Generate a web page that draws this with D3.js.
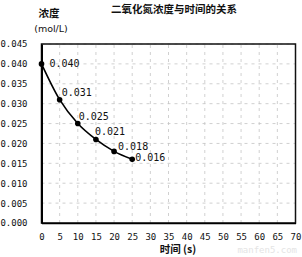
<!DOCTYPE html>
<html><head><meta charset="utf-8">
<script src="https://cdn.jsdelivr.net/npm/d3@7"></script>
<style>body{margin:0;background:#fff}svg{display:block}</style>
</head><body>
<svg id="c" width="302" height="257"></svg>
<script>
const times = [0, 5, 10, 15, 20, 25];
const concentrations = [0.040, 0.031, 0.025, 0.021, 0.018, 0.016];
const pointLabels = ["0.040", "0.031", "0.025", "0.021", "0.018", "0.016"];
const xTicks = [0,5,10,15,20,25,30,35,40,45,50,55,60,65,70];
const yTicks = [0,0.005,0.010,0.015,0.020,0.025,0.030,0.035,0.040,0.045];
const title = "二氧化氮浓度与时间的关系";
const yTitle1 = "浓度";
const yTitle2 = "(mol/L)";
const xTitle = "时间 (s)";

const svg = d3.select("#c");
const x = d3.scaleLinear().domain([0,70]).range([41.5,295.5]);
const y = d3.scaleLinear().domain([0,0.045]).range([223,44]);
const mono = "'DejaVu Sans Mono', monospace";

// gridlines
svg.append("g").selectAll("line").data(yTicks.slice(1)).join("line")
  .attr("x1",x(0)).attr("x2",x(70)).attr("y1",d=>y(d)).attr("y2",d=>y(d))
  .attr("stroke","#c4c4c4").attr("stroke-width",0.8).attr("stroke-dasharray","3,4");
svg.append("g").selectAll("line").data(xTicks.slice(1)).join("line")
  .attr("y1",y(0)).attr("y2",y(0.045)).attr("x1",d=>x(d)).attr("x2",d=>x(d))
  .attr("stroke","#c4c4c4").attr("stroke-width",0.8).attr("stroke-dasharray","3,4");

// frame
svg.append("rect").attr("x",x(0)).attr("y",y(0.045)).attr("width",x(70)-x(0)).attr("height",y(0)-y(0.045))
  .attr("fill","none").attr("stroke","#111").attr("stroke-width",1.5);

// axes
const ya = d3.axisLeft(y).tickValues(yTicks).tickFormat(d3.format(".3f")).tickSize(0).tickPadding(14);
const yg = svg.append("g").attr("transform",`translate(${x(0)},0)`).call(ya);
yg.select(".domain").attr("stroke","#000").attr("stroke-width",2);
yg.selectAll("text").attr("font-family",mono).attr("font-size",9).attr("fill","#111");
const xa = d3.axisBottom(x).tickValues(xTicks).tickSize(0).tickPadding(11);
const xg = svg.append("g").attr("transform",`translate(0,${y(0)})`).call(xa);
xg.select(".domain").attr("stroke","#000").attr("stroke-width",1.5);
xg.selectAll("text").attr("font-family",mono).attr("font-size",9).attr("fill","#111");

// line
const pts = times.map((t,i)=>[t,concentrations[i]]);
svg.append("path").datum(pts)
  .attr("d",d3.line().x(d=>x(d[0])).y(d=>y(d[1])).curve(d3.curveMonotoneX))
  .attr("fill","none").attr("stroke","#000").attr("stroke-width",1.6);
svg.append("g").selectAll("circle").data(pts).join("circle")
  .attr("cx",d=>x(d[0])).attr("cy",d=>y(d[1])).attr("r",2.8).attr("fill","#000");
const dy = [3,-4,-4,-4,-1,2];
const dx = [8,2,1,-1,4,3];
svg.append("g").selectAll("text").data(pts).join("text")
  .attr("x",(d,i)=>x(d[0])+dx[i]).attr("y",(d,i)=>y(d[1])+dy[i])
  .attr("font-family",mono).attr("font-size",10).attr("fill","#111")
  .text((d,i)=>pointLabels[i]);

// titles
svg.append("text").attr("x",174).attr("y",13).attr("text-anchor","middle")
  .attr("font-family","'Noto Sans CJK SC'").attr("font-weight","bold").attr("font-size",10.5).attr("fill","#111").text(title);
svg.append("text").attr("x",49).attr("y",17).attr("text-anchor","middle")
  .attr("font-family","'Noto Sans CJK SC'").attr("font-weight","bold").attr("font-size",10.5).attr("fill","#111").text(yTitle1);
svg.append("text").attr("x",51).attr("y",32).attr("text-anchor","middle")
  .attr("font-family","'DejaVu Sans'").attr("font-size",9.5).attr("fill","#111").text(yTitle2);
svg.append("text").attr("x",178).attr("y",253).attr("text-anchor","middle")
  .attr("font-family","'Noto Sans CJK SC'").attr("font-weight","bold").attr("font-size",10.5).attr("fill","#111").text(xTitle);
svg.append("text").attr("x",297).attr("y",253).attr("text-anchor","end")
  .attr("font-family",mono).attr("font-size",9).attr("fill","#e4e4e4").text("manfen5.com");
</script>
</body></html>
